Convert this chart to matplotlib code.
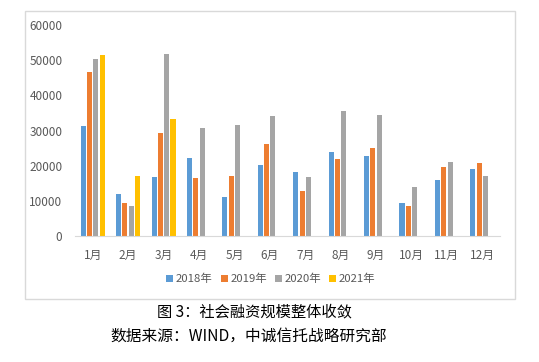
import numpy as np
import matplotlib
matplotlib.use('Agg')
import matplotlib.pyplot as plt
from matplotlib.patches import Rectangle

plt.rcParams['font.family'] = ['Noto Sans CJK SC', 'DejaVu Sans']

months = ['1月', '2月', '3月', '4月', '5月', '6月', '7月', '8月', '9月', '10月', '11月', '12月']
years = ['2018年', '2019年', '2020年', '2021年']
v2018 = [31300, 11900, 16800, 22200, 11100, 20200, 18200, 23900, 22700, 9400, 15900, 19000]
v2019 = [46700, 9400, 29300, 16500, 17100, 26200, 12800, 21900, 25000, 8500, 19600, 20700]
v2020 = [50300, 8500, 51800, 30700, 31600, 34100, 16800, 35500, 34400, 13900, 21000, 17100]
v2021 = [51500, 17100, 33300] + [np.nan] * 9
colors = ['#5B9BD5', '#ED7D31', '#A5A5A5', '#FFC000']

W, H = 539, 362
fig = plt.figure(figsize=(W / 100, H / 100), dpi=100)

# chart frame like the Excel chart area
fig.patches.append(Rectangle((25 / W, 1 - 299 / H), 490 / W, 288 / H,
                             transform=fig.transFigure, fill=False,
                             edgecolor='#d9d9d9', lw=1))

ax = fig.add_axes([75 / W, 1 - 236 / H, 425 / W, 211 / H])
x = np.arange(len(months))
step, width = 0.178, 0.142
for i, (vals, c, lab) in enumerate(zip([v2018, v2019, v2020, v2021], colors, years)):
    ax.bar(x + (i - 1.5) * step, vals, width=width, color=c, label=lab)

ax.set_xlim(-0.5, len(months) - 0.5)
ax.set_ylim(0, 60000)
ax.set_yticks(range(0, 60001, 10000))
ax.set_xticks(x)
ax.set_xticklabels(months)
for s in ['top', 'right', 'left']:
    ax.spines[s].set_visible(False)
ax.spines['bottom'].set_color('#d9d9d9')
ax.tick_params(axis='both', length=0, colors='#595959', labelsize=8.5)
ax.tick_params(axis='x', pad=9)
ax.tick_params(axis='y', pad=9)

fig.legend(loc='center', bbox_to_anchor=(271 / W, 1 - 279 / H), ncol=4,
           frameon=False, fontsize=8.2, handlelength=0.6, handleheight=0.6,
           handletextpad=0.25, columnspacing=0.7, labelcolor='#595959')

fig.text(254 / W, 1 - 312 / H, '图 3：社会融资规模整体收敛', ha='center', va='center',
         fontsize=11, color='black')
fig.text(110 / W, 1 - 336 / H, '数据来源：WIND，中诚信托战略研究部', ha='left', va='center',
         fontsize=11.3, color='black')

fig.savefig('out.png', dpi=100)
